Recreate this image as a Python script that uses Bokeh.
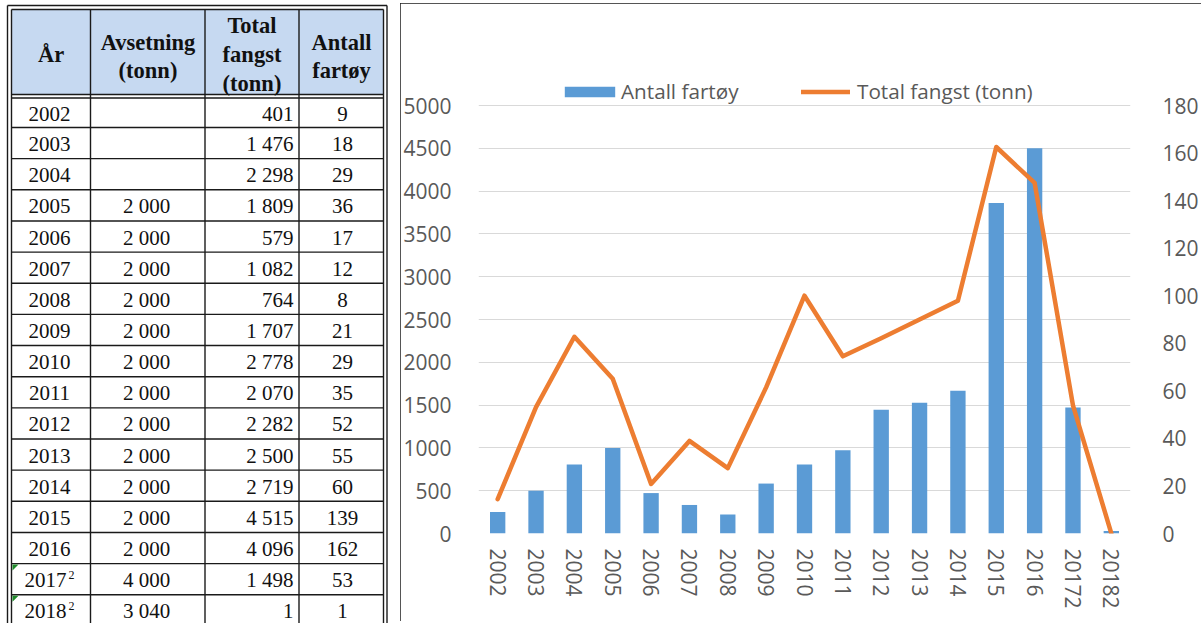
from bokeh.plotting import figure
from bokeh.layouts import row, column
from bokeh.models import (Range1d, LinearAxis, Legend, LegendItem, FactorRange, FixedTicker,
                          ColumnDataSource, Spacer)
from bokeh.core.properties import value
from bokeh.embed import file_html
from bokeh.resources import INLINE

# ---------------- data ----------------
years = ["2002", "2003", "2004", "2005", "2006", "2007", "2008", "2009", "2010",
         "2011", "2012", "2013", "2014", "2015", "2016", "2017", "2018"]
year_footnote = ["", "", "", "", "", "", "", "", "", "", "", "", "", "", "", "2", "2"]
avsetning = [None, None, None, 2000, 2000, 2000, 2000, 2000, 2000,
             2000, 2000, 2000, 2000, 2000, 2000, 4000, 3040]
total_fangst = [401, 1476, 2298, 1809, 579, 1082, 764, 1707, 2778,
                2070, 2282, 2500, 2719, 4515, 4096, 1498, 1]
antall_fartoy = [9, 18, 29, 36, 17, 12, 8, 21, 29, 35, 52, 55, 60, 139, 162, 53, 1]
chart_categories = [y + f for y, f in zip(years, year_footnote)]
left_ticks = [0, 500, 1000, 1500, 2000, 2500, 3000, 3500, 4000, 4500, 5000]
right_ticks = [0, 20, 40, 60, 80, 100, 120, 140, 160, 180]
header_lines = [["År"], ["Avsetning", "(tonn)"], ["Total", "fangst", "(tonn)"], ["Antall", "fartøy"]]
legend_labels = ["Antall fartøy", "Total fangst (tonn)"]


def fmt(v):
    return "" if v is None else f"{v:,}".replace(",", " ")


# ---------------- table (drawn in pixel-like coordinates) ----------------
SERIF = value("Liberation Serif")
LINE = "#1a1a1a"
INK = "#111111"
col_x = [11, 90, 204.5, 298.5, 383]
row_h = 31.15
edges = [97.5] + [127 + row_h * i for i in range(len(years))]
centers = [(edges[i] + edges[i + 1]) / 2 + 1 for i in range(len(years))]

t = figure(width=400, height=623, x_range=Range1d(0, 400), y_range=Range1d(623, 0),
           x_axis_location=None, y_axis_location=None, toolbar_location=None,
           output_backend="svg", min_border=0)
t.grid.visible = False
t.outline_line_color = None

t.quad(left=[11], right=[383], top=[9], bottom=[94], fill_color="#c6d9f1", line_color=None)

x0, y0, x1, y1 = [], [], [], []
def seg(a, b, c, d):
    x0.append(a); y0.append(b); x1.append(c); y1.append(d)

for xv in (7, 386.5):
    seg(xv, 5, xv, 640)
seg(7, 5, 386.5, 5)
for xv in (11, 383):
    seg(xv, 9, xv, 640)
seg(11, 9, 383, 9)
seg(11, 94, 383, 94)
for xv in col_x[1:-1]:
    seg(xv, 9, xv, 640)
for e in edges:
    seg(11, e, 383, e)
t.segment(x0=x0, y0=y0, x1=x1, y1=y1, line_color=LINE, line_width=1.4)

hx, hy, ht = [], [], []
header_centers = [50.5, 147.5, 251.5, 341]
header_y = {1: [54], 2: [42, 70], 3: [25, 54, 83]}
for cx, lines in zip(header_centers, header_lines):
    for yy, txt in zip(header_y[len(lines)], lines):
        hx.append(cx); hy.append(yy); ht.append(txt)
t.text(x=hx, y=hy, text=ht, text_font=SERIF, text_font_size="22.5px", text_font_style="bold",
       text_align="center", text_baseline="middle", text_color=INK)

yx = [49 if f == "" else 45 for f in year_footnote]
t.text(x=yx, y=centers, text=years, text_font=SERIF, text_font_size="21px",
       text_align="center", text_baseline="middle", text_color=INK)
sx = [71 for f in year_footnote if f]
sy = [c - 5 for c, f in zip(centers, year_footnote) if f]
st = [f for f in year_footnote if f]
t.text(x=sx, y=sy, text=st, text_font=SERIF, text_font_size="12px",
       text_align="center", text_baseline="middle", text_color=INK)
tri_x = [[12, 18, 12] for f in year_footnote if f]
tri_y = [[e + 1, e + 1, e + 7] for e, f in zip(edges, year_footnote) if f]
t.patches(xs=tri_x, ys=tri_y, fill_color="#1f8a2a", line_color=None)

t.text(x=[146] * len(years), y=centers, text=[fmt(v) for v in avsetning], text_font=SERIF,
       text_font_size="21px", text_align="center", text_baseline="middle", text_color=INK)
t.text(x=[293] * len(years), y=centers, text=[fmt(v) for v in total_fangst], text_font=SERIF,
       text_font_size="21px", text_align="right", text_baseline="middle", text_color=INK)
t.text(x=[342] * len(years), y=centers, text=[fmt(v) for v in antall_fartoy], text_font=SERIF,
       text_font_size="21px", text_align="center", text_baseline="middle", text_color=INK)

# ---------------- chart ----------------
SANS = "Open Sans"
GRAY = "#595959"
FRAME_H = 458          # legend strip + value area
VAL_H = 428            # 0..5000 / 0..180 area
c = figure(width=801, height=618, x_range=FactorRange(factors=chart_categories),
           y_range=Range1d(0, 5000 * FRAME_H / VAL_H), toolbar_location=None, output_backend="svg",
           min_border_left=76, min_border_right=64, min_border_top=72, min_border_bottom=88)
c.extra_y_ranges = {"right": Range1d(0, 180 * FRAME_H / VAL_H)}
c.styles = {"outline": "2px solid #1c1c1c", "outline-offset": "-2px"}
c.outline_line_color = None
c.xgrid.visible = False
c.ygrid.grid_line_color = "#d9d9d9"
c.ygrid.grid_line_width = 1

src = ColumnDataSource(dict(cat=chart_categories, antall=antall_fartoy, fangst=total_fangst))
bars = c.vbar(x="cat", top="antall", width=0.4, source=src, y_range_name="right",
              fill_color="#5b9bd5", line_color=None)
ln = c.line(x="cat", y="fangst", source=src, line_color="#ed7d31", line_width=4.5,
            line_join="round", line_cap="round")

c.yaxis.ticker = FixedTicker(ticks=left_ticks)
right_axis = LinearAxis(y_range_name="right", ticker=FixedTicker(ticks=right_ticks))
c.add_layout(right_axis, "right")

for ax in [c.xaxis[0], c.yaxis[0], right_axis]:
    ax.axis_line_color = None
    ax.major_tick_line_color = None
    ax.minor_tick_line_color = None
    ax.major_label_text_font = SANS
    ax.major_label_text_font_size = "21px"
    ax.major_label_text_color = GRAY
c.yaxis[0].major_label_standoff = 21
right_axis.major_label_standoff = 26
c.xaxis[0].major_label_orientation = "vertical"
c.xaxis[0].major_label_standoff = 9

legend_style = dict(orientation="horizontal", label_text_font=SANS, label_text_font_size="20.7px",
                    label_text_color=GRAY, padding=0, margin=0, border_line_color=None,
                    background_fill_alpha=0)
legend_bar = Legend(items=[LegendItem(label=legend_labels[0], renderers=[bars])],
                    location=(80, VAL_H), glyph_width=63, glyph_height=13, label_standoff=0,
                    **legend_style)
legend_line = Legend(items=[LegendItem(label=legend_labels[1], renderers=[ln])],
                     location=(323, VAL_H), glyph_width=49, glyph_height=13, label_standoff=7,
                     **legend_style)
c.add_layout(legend_bar, "center")
c.add_layout(legend_line, "center")

layout = row(column(t), column(Spacer(width=801, height=3), c))
open("out.html", "w").write(file_html(layout, INLINE))
